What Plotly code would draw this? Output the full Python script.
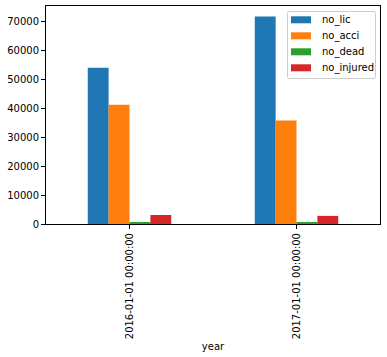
import plotly.graph_objects as go

years = ["2016-01-01 00:00:00", "2017-01-01 00:00:00"]
no_lic = [54000, 71700]
no_acci = [41200, 35700]
no_dead = [700, 700]
no_injured = [3100, 2800]

series = [
    ("no_lic", no_lic, "#1f77b4"),
    ("no_acci", no_acci, "#ff7f0e"),
    ("no_dead", no_dead, "#2ca02c"),
    ("no_injured", no_injured, "#d62728"),
]

W, H = 387, 357
ML, MR, MT, MB = 46, 7, 6, 133
PW, PH = W - ML - MR, H - MT - MB

fig = go.Figure()
for name, vals, color in series:
    fig.add_trace(go.Bar(x=years, y=vals, name=name, marker=dict(color=color, line=dict(width=0))))

ymax = max(max(v) for _, v, _ in series) * 1.05

def px(x):
    return (x - ML) / PW

def py(y):
    return 1 - (y - MT) / PH

# custom legend (matplotlib-style)
shapes = []
annotations = []
bx0, bx1, by0, by1 = 287.5, 375.5, 11.5, 78.5
r = 2
path = (f"M {px(bx0 + r)} {py(by0)} L {px(bx1 - r)} {py(by0)} Q {px(bx1)} {py(by0)} {px(bx1)} {py(by0 + r)} "
        f"L {px(bx1)} {py(by1 - r)} Q {px(bx1)} {py(by1)} {px(bx1 - r)} {py(by1)} "
        f"L {px(bx0 + r)} {py(by1)} Q {px(bx0)} {py(by1)} {px(bx0)} {py(by1 - r)} "
        f"L {px(bx0)} {py(by0 + r)} Q {px(bx0)} {py(by0)} {px(bx0 + r)} {py(by0)} Z")
shapes.append(dict(type="path", xref="paper", yref="paper", path=path,
                   fillcolor="rgba(255,255,255,0.8)", line=dict(color="#cccccc", width=1)))
row_y = [19.8, 35.8, 51.8, 67.8]
for (name, _, color), cy in zip(series, row_y):
    shapes.append(dict(type="rect", xref="paper", yref="paper",
                       x0=px(291), x1=px(311), y0=py(cy - 3.5), y1=py(cy + 3.5),
                       fillcolor=color, line=dict(width=0)))
    annotations.append(dict(xref="paper", yref="paper", x=px(319.5), y=py(cy),
                            xanchor="left", yanchor="middle", showarrow=False, text=name,
                            font=dict(family="DejaVu Sans", size=10, color="#000000")))

font = dict(family="DejaVu Sans", size=10, color="#000000")
fig.update_layout(
    width=W, height=H,
    margin=dict(l=ML, r=MR, t=MT, b=MB),
    paper_bgcolor="white", plot_bgcolor="white",
    barmode="group", bargap=0.5, bargroupgap=0,
    font=font,
    showlegend=False,
    shapes=shapes,
    annotations=annotations,
    xaxis=dict(type="category", range=[-0.5, 1.5], tickangle=-90,
               showline=True, linecolor="black", linewidth=1, mirror=True,
               ticks="outside", ticklen=4, tickcolor="black", showgrid=False,
               title=dict(text="year", font=font, standoff=4)),
    yaxis=dict(range=[0, ymax], tickformat="d", dtick=10000,
               showline=True, linecolor="black", linewidth=1, mirror=True,
               ticks="outside", ticklen=4, tickcolor="black", showgrid=False, zeroline=False),
)
fig.write_html("out.html")
